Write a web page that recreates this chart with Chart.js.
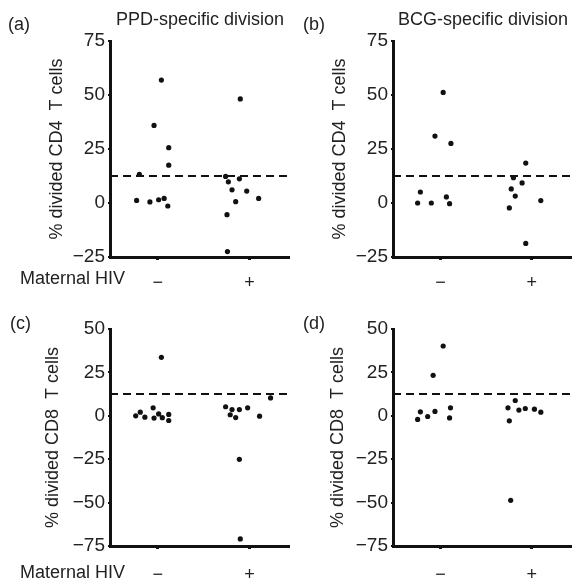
<!DOCTYPE html>
<html>
<head>
<meta charset="utf-8">
<script src="https://cdn.jsdelivr.net/npm/chart.js@4.4.0/dist/chart.umd.min.js"></script>
<style>
  body { margin: 0; background: #fff; }
  #wrap { position: relative; width: 574px; height: 583px; overflow: hidden; }
  .panel { position: absolute; }
</style>
</head>
<body>
<div id="wrap">
  <div class="panel" style="left:0;top:0;width:292px;height:290px"><canvas id="pa"></canvas></div>
  <div class="panel" style="left:283px;top:0;width:291px;height:290px"><canvas id="pb"></canvas></div>
  <div class="panel" style="left:0;top:288px;width:292px;height:295px"><canvas id="pc"></canvas></div>
  <div class="panel" style="left:283px;top:288px;width:291px;height:295px"><canvas id="pd"></canvas></div>
</div>
<script>
// Maternal HIV groups: position 1 = negative, 2 = positive
const groupLabels = ['\u2212', '+'];
const cutoff = 12.5;

// (a) PPD-specific, CD4
const ppdCd4X = [0.77, 0.80, 0.915, 0.96, 1.01, 1.04, 1.07, 1.11, 1.12, 1.12,
                 1.74, 1.755, 1.76, 1.77, 1.81, 1.85, 1.89, 1.90, 1.97, 2.10];
const ppdCd4Y = [1.2, 13.3, 0.5, 35.9, 1.5, 56.9, 2.1, -1.4, 25.6, 17.5,
                 12.3, -5.4, -22.5, 9.8, 6.1, 0.6, 11.2, 48.2, 5.5, 2.1];

// (b) BCG-specific, CD4
const bcgCd4X = [0.75, 0.78, 0.90, 0.94, 1.03, 1.065, 1.10, 1.115,
                 1.755, 1.776, 1.80, 1.82, 1.895, 1.935, 1.935, 2.10];
const bcgCd4Y = [0, 5.1, 0, 31, 51.2, 2.8, -0.3, 27.6,
                 -2.3, 6.5, 11.7, 3.2, 9.3, 18.5, -18.7, 1.1];

// (c) PPD-specific, CD8
const ppdCd8X = [0.76, 0.81, 0.86, 0.95, 0.96, 1.01, 1.04, 1.05, 1.12, 1.12,
                 1.74, 1.79, 1.81, 1.85, 1.89, 1.89, 1.90, 1.98, 2.11, 2.23];
const ppdCd8Y = [0, 2.1, -0.8, 4.6, -1.3, 1.1, 33.7, -1.1, 0.8, -2.7,
                 5.2, 0.6, 3.6, -1.0, 3.6, -25.1, -70.9, 4.6, -0.2, 10.3];

// (d) BCG-specific, CD8
const bcgCd8X = [0.75, 0.78, 0.86, 0.92, 0.94, 1.03, 1.10, 1.11,
                 1.74, 1.755, 1.77, 1.82, 1.86, 1.93, 2.03, 2.10];
const bcgCd8Y = [-2.1, 2.3, -0.4, 23.3, 2.5, 40.2, -1.2, 4.6,
                 4.6, -2.9, -48.7, 8.8, 3.3, 4.2, 3.8, 2.1];

const FONT = 'Arial, "Liberation Sans", Helvetica, sans-serif';
const X_MIN = 0.48, X_MAX = 2.42;

// panel letters, titles and the "Maternal HIV" row label
const panelText = {
  id: 'panelText',
  afterDraw(chart, args, o) {
    const ctx = chart.ctx;
    ctx.save();
    ctx.fillStyle = '#222';
    ctx.font = '18px ' + FONT;
    ctx.textBaseline = 'middle';
    ctx.textAlign = 'left';
    ctx.fillText(o.letter, o.letterX, o.letterY);
    if (o.title) {
      ctx.textAlign = 'center';
      ctx.fillText(o.title, chart.chartArea.left + 90, 20);
    }
    if (o.rowLabel) {
      ctx.textAlign = 'left';
      ctx.fillText(o.rowLabel, 20, o.rowY);
    }
    ctx.restore();
  }
};

function makePanel(id, xs, ys, yMin, yMax, yTitle, text, xHeight, xPad, titlePad) {
  const pts = xs.map((x, i) => ({ x: x, y: ys[i] }));
  new Chart(document.getElementById(id), {
    type: 'scatter',
    data: {
      datasets: [{
        data: pts,
        backgroundColor: '#111',
        borderWidth: 0,
        pointRadius: 2.6
      }, {
        type: 'line',
        data: [{ x: X_MIN, y: cutoff }, { x: X_MAX, y: cutoff }],
        borderColor: '#111',
        borderWidth: 2,
        borderDash: [8, 5],
        pointRadius: 0
      }]
    },
    options: {
      responsive: true,
      maintainAspectRatio: false,
      animation: false,
      layout: { padding: { top: 41, right: 0, bottom: 0, left: 0 } },
      plugins: { legend: { display: false }, tooltip: { enabled: false }, panelText: text },
      scales: {
        x: {
          type: 'linear',
          min: X_MIN, max: X_MAX,
          afterBuildTicks: s => { s.ticks = [{ value: 1 }, { value: 2 }]; },
          afterFit: s => { s.height = xHeight; },
          border: { color: '#111', width: 3 },
          grid: { drawOnChartArea: false, color: '#111', lineWidth: 3, tickLength: 3 },
          ticks: {
            color: '#222', font: { family: FONT, size: 18 }, padding: xPad,
            callback: v => groupLabels[v - 1]
          }
        },
        y: {
          min: yMin, max: yMax,
          afterFit: s => { s.width = 110; },
          border: { color: '#111', width: 3 },
          grid: { drawOnChartArea: false, color: '#111', lineWidth: 2, tickLength: 2 },
          ticks: { stepSize: 25, color: '#222', font: { family: FONT, size: 19 }, padding: 3,
                   callback: v => (v < 0 ? '\u2212' + Math.abs(v) : String(v)) },
          title: { display: true, text: yTitle, color: '#222',
                   font: { family: FONT, size: 18 }, padding: { top: titlePad, bottom: 0 } }
        }
      }
    },
    plugins: [panelText]
  });
}

makePanel('pa', ppdCd4X, ppdCd4Y, -25, 75, '% divided CD4  T cells',
  { letter: '(a)', letterX: 8, letterY: 25, title: 'PPD-specific division', rowLabel: 'Maternal HIV', rowY: 279 }, 33, 12, 46);
makePanel('pb', bcgCd4X, bcgCd4Y, -25, 75, '% divided CD4  T cells',
  { letter: '(b)', letterX: 20, letterY: 25, title: 'BCG-specific division' }, 33, 12, 46);
makePanel('pc', ppdCd8X, ppdCd8Y, -75, 50, '% divided CD8  T cells',
  { letter: '(c)', letterX: 10, letterY: 36, rowLabel: 'Maternal HIV', rowY: 285 }, 37, 15, 42);
makePanel('pd', bcgCd8X, bcgCd8Y, -75, 50, '% divided CD8  T cells',
  { letter: '(d)', letterX: 20, letterY: 36 }, 37, 15, 44);
</script>
</body>
</html>
